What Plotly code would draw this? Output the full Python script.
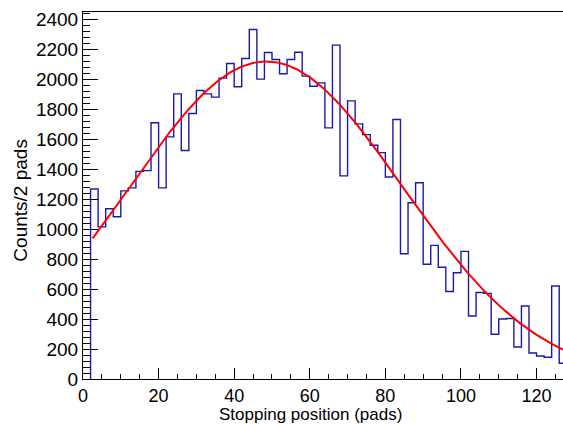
import plotly.graph_objects as go
import math

# Histogram: 2-pad bins, left edges 2..126
bin_left = list(range(2, 128, 2))
counts = [1267, 1015, 1136, 1082, 1255, 1275, 1385, 1390, 1709, 1275,
          1615, 1902, 1524, 1771, 1924, 1902, 1880, 2007, 2104, 1949,
          2138, 2331, 2000, 2178, 2131, 2036, 2131, 2180, 2020, 1953,
          1975, 1675, 2227, 1355, 1855, 1702, 1630, 1559, 1510, 1347,
          1731, 835, 1176, 1309, 765, 891, 745, 584, 709, 851,
          420, 577, 571, 298, 400, 404, 213, 487, 173, 153,
          145, 620, 105]
bin_width = 2
assert len(counts) == len(bin_left)

# Gaussian fit parameters
fit_amp = 2118.0
fit_mean = 48.5
fit_sigma = 36.0
fit_range = (2.55, 127.0)

x_ticks = [0, 20, 40, 60, 80, 100, 120]
y_ticks = list(range(0, 2401, 200))

# step outline
sx = [bin_left[0]] + bin_left + [bin_left[-1] + bin_width]
sy = [0] + counts + [counts[-1]]

n = 300
fx = [fit_range[0] + (fit_range[1] - fit_range[0]) * i / (n - 1) for i in range(n)]
fy = [fit_amp * math.exp(-0.5 * ((v - fit_mean) / fit_sigma) ** 2) for v in fx]

fig = go.Figure()
fig.add_trace(go.Scatter(x=sx, y=sy, mode="lines", line=dict(shape="hv", color="#1a1aa8", width=1.4),
                         hoverinfo="skip", showlegend=False))
fig.add_trace(go.Scatter(x=fx, y=fy, mode="lines", line=dict(color="#ff0000", width=2),
                         hoverinfo="skip", showlegend=False))

font = "Liberation Sans, Arial, sans-serif"
fig.update_layout(
    width=563, height=424,
    margin=dict(l=83, r=0, t=12, b=45),
    paper_bgcolor="white", plot_bgcolor="white",
    font=dict(family=font, size=19, color="black"),
    xaxis=dict(range=[0, 127], tickvals=x_ticks, ticks="inside", ticklen=11, tickwidth=1,
               tickcolor="black", showline=True, linecolor="black", linewidth=1, mirror=True,
               showgrid=False, zeroline=False,
               minor=dict(dtick=5, tick0=0, ticks="inside", ticklen=5.5, tickcolor="black", tickwidth=1, showgrid=False),
               tickfont=dict(size=18)),
    yaxis=dict(range=[0, 2448], tickvals=y_ticks, ticks="inside", ticklen=14.5, tickwidth=1,
               tickcolor="black", showline=True, linecolor="black", linewidth=1, mirror=True,
               showgrid=False, zeroline=False,
               minor=dict(dtick=40, tick0=0, ticks="inside", ticklen=7, tickcolor="black", tickwidth=1, showgrid=False),
               tickfont=dict(size=19)),
    annotations=[
        dict(text="Stopping position (pads)", xref="paper", yref="paper", x=0.473, y=-0.096,
             xanchor="center", yanchor="middle", showarrow=False, font=dict(size=17)),
        dict(text="Counts/2 pads", xref="paper", yref="paper", x=-0.1305, y=0.487,
             xanchor="center", yanchor="middle", showarrow=False, textangle=-90, font=dict(size=19)),
    ],
)

fig.write_html("out.html")
